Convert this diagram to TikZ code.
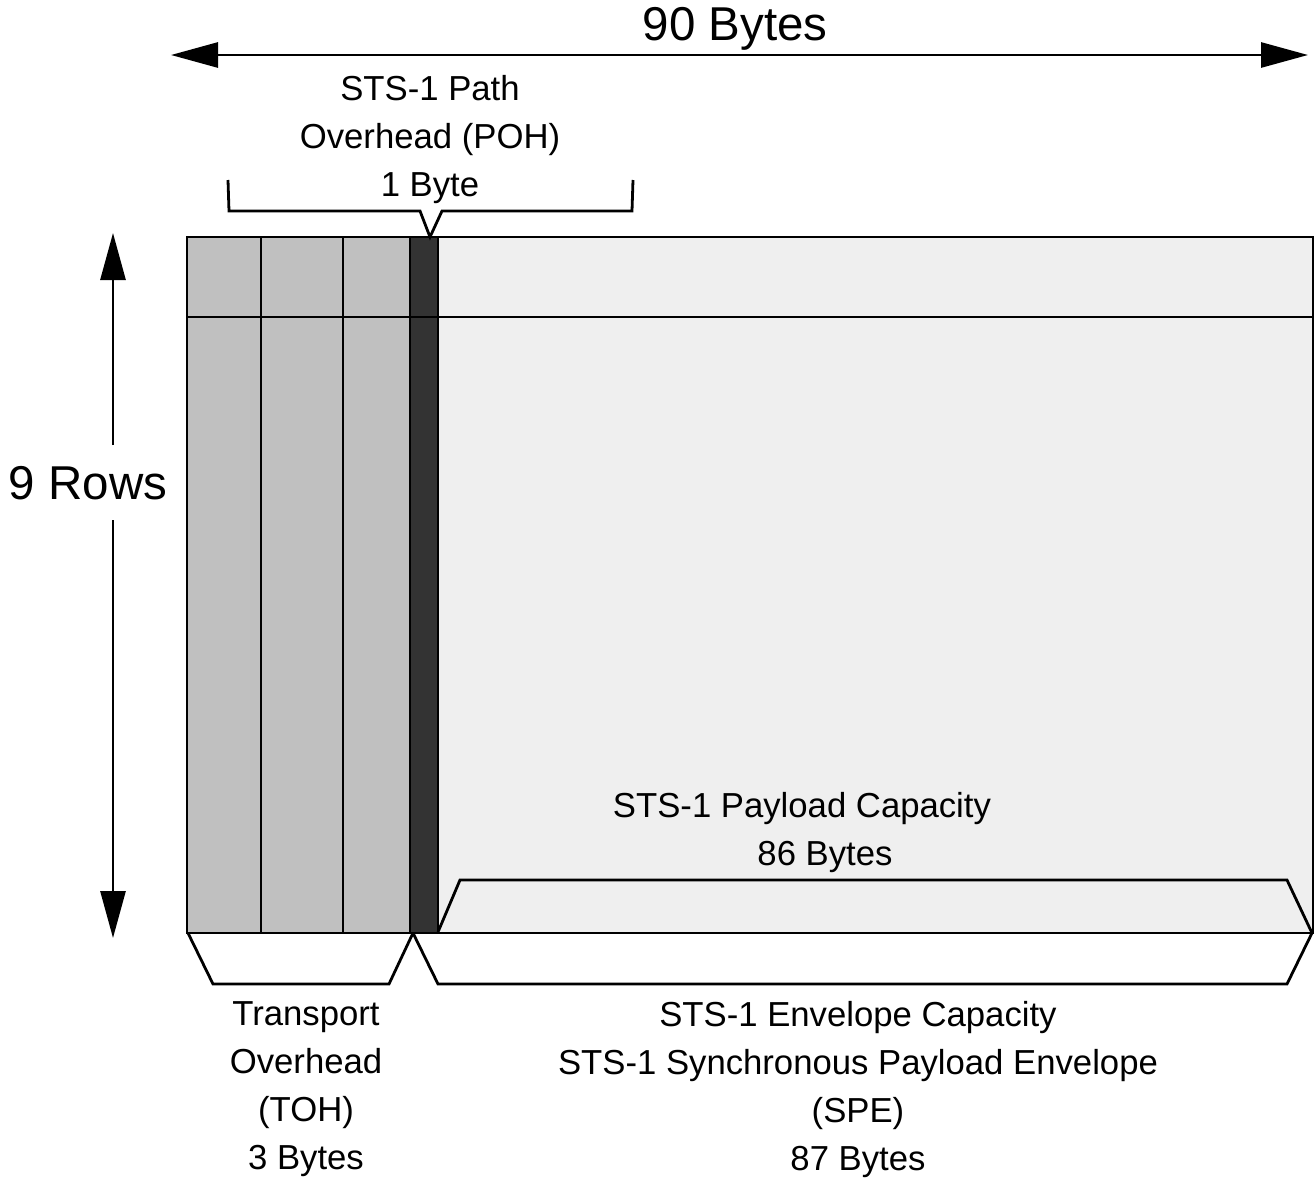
\documentclass[tikz,border=0pt]{standalone}
\usepackage{fontspec}
\setmainfont{Liberation Sans}
\usetikzlibrary{arrows.meta}
\begin{document}
\begin{tikzpicture}[x=1pt,y=-1pt,
  line width=2.8pt, line join=miter,
  big/.style={font=\fontsize{47.5}{56}\selectfont},
  lbl/.style={font=\fontsize{34.7}{48}\selectfont, align=center, inner sep=0pt},
  dim/.style={-{Triangle[length=47pt,width=25pt]}},
  brk/.style={line width=2.8pt}]
\useasboundingbox (0,0) rectangle (1315,1181);
% frame cells
\fill[fill={rgb,255:red,192;green,192;blue,192}] (187,237) rectangle (410,933);
\fill[fill={rgb,255:red,51;green,51;blue,51}] (410,237) rectangle (438,933);
\fill[fill={rgb,255:red,239;green,239;blue,239}] (438,237) rectangle (1313,933);
\draw (187,237) rectangle (1313,933);
\draw (187,317) -- (1313,317);
\draw (261,237) -- (261,933);
\draw (343,237) -- (343,933);
\draw (410,237) -- (410,933);
\draw (438,237) -- (438,933);
% named reference points
\coordinate (tl) at (171,55);
\coordinate (tr) at (1308,55);
\coordinate (vt) at (113,233);
\coordinate (vb) at (113,938);
\coordinate (vg1) at (113,445);
\coordinate (vg2) at (113,520);
% dimension arrows
\node[big] (wlab) at (735,29) {90 Bytes};
\draw[dim] (vg1) -- (vt);
\draw[dim] (vg2) -- (vb);
\draw[{Triangle[length=47pt,width=25pt]}-{Triangle[length=47pt,width=25pt]}] (tl) -- (tr);
\node[big] (hlab) at (88,483) {9 Rows};
% POH brace
\draw[brk] (228,180) -- (229,211) -- (420,211) -- (430,237) -- (442,211) -- (632,211) -- (633,180);
\node[lbl] (poh) at (430,140) {STS-1 Path\\Overhead (POH)\\1 Byte};
% payload capacity brace
\draw[brk] (438,932) -- (460,880) -- (1287,880) -- (1312,933);
\node[lbl] (pc) at (802,833) {STS-1 Payload Capacity\\\hspace*{46pt}86 Bytes};
% TOH brace
\draw[brk] (188,933) -- (213,984) -- (389,984) -- (413,933);
\node[lbl] (toh) at (306,1089) {Transport\\Overhead\\(TOH)\\3 Bytes};
% SPE brace
\draw[brk] (413,933) -- (438,984) -- (1287,984) -- (1312,933);
\node[lbl] (spe) at (858,1090) {STS-1 Envelope Capacity\\STS-1 Synchronous Payload Envelope\\(SPE)\\87 Bytes};
\end{tikzpicture}
\end{document}
